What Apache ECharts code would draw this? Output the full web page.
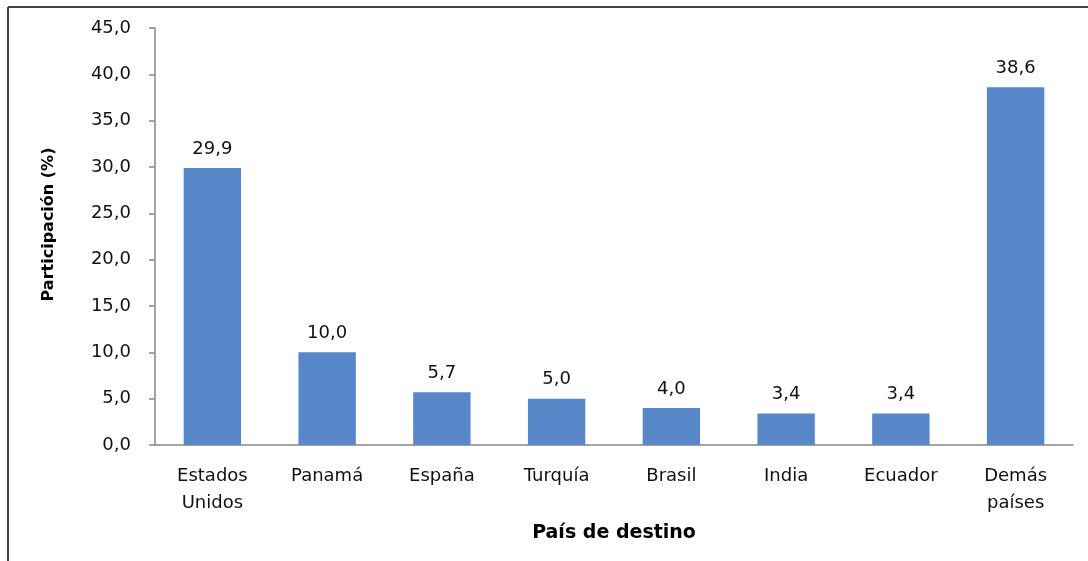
<!DOCTYPE html>
<html>
<head>
<meta charset="utf-8">
<script src="https://cdn.jsdelivr.net/npm/echarts@6/dist/echarts.min.js"></script>
<style>
  html, body { margin: 0; padding: 0; background: #fff; }
  #chart { width: 1088px; height: 561px; }
</style>
</head>
<body>
<div id="chart"></div>
<script>
const categories = ['Estados\nUnidos', 'Panamá', 'España', 'Turquía', 'Brasil', 'India', 'Ecuador', 'Demás\npaíses']
const participacion = [29.9, 10.0, 5.7, 5.0, 4.0, 3.4, 3.4, 38.6]

// coma decimal
const fmt = v => Number(v).toFixed(1).replace('.', ',')

const chart = echarts.init(document.getElementById('chart'))
const font = '"DejaVu Sans", sans-serif'

chart.setOption({
  animation: false,
  textStyle: { fontFamily: font },
  grid: { left: 155, right: 15, top: 28, bottom: 116 },
  graphic: [
    { type: 'line', shape: { x1: 8, y1: 7, x2: 1088, y2: 7 }, style: { stroke: '#444', lineWidth: 2 } },
    { type: 'line', shape: { x1: 8, y1: 7, x2: 8, y2: 561 }, style: { stroke: '#444', lineWidth: 2 } }
  ],
  xAxis: {
    type: 'category',
    data: categories,
    name: 'País de destino',
    nameLocation: 'middle',
    nameGap: 79,
    nameTextStyle: { fontSize: 19, fontWeight: 'bold', color: '#000', fontFamily: font },
    axisLine: { lineStyle: { color: '#888', width: 1.5 } },
    axisTick: { length: 6, lineStyle: { color: '#888', width: 1.5 } },
    axisLabel: { fontSize: 18, color: '#111', margin: 18, lineHeight: 27, interval: 0, fontFamily: font }
  },
  yAxis: {
    type: 'value',
    min: 0,
    max: 45,
    interval: 5,
    name: 'Participación (%)',
    nameLocation: 'middle',
    nameRotate: 90,
    nameGap: 98,
    nameTextStyle: { fontSize: 16, fontWeight: 'bold', color: '#000', fontFamily: font, padding: [0, 0, 0, 24] },
    axisLine: { show: true, lineStyle: { color: '#888', width: 1.5 } },
    axisTick: { show: true, length: 6, lineStyle: { color: '#888', width: 1.5 } },
    splitLine: { show: false },
    axisLabel: { fontSize: 18, color: '#111', margin: 24, formatter: fmt, fontFamily: font }
  },
  series: [{
    type: 'bar',
    data: participacion,
    barCategoryGap: '50%',
    itemStyle: { color: '#5888C9' },
    label: {
      show: true,
      position: 'top',
      distance: 10,
      fontSize: 18,
      color: '#111',
      fontFamily: font,
      formatter: p => fmt(p.value)
    }
  }]
})
</script>
</body>
</html>
